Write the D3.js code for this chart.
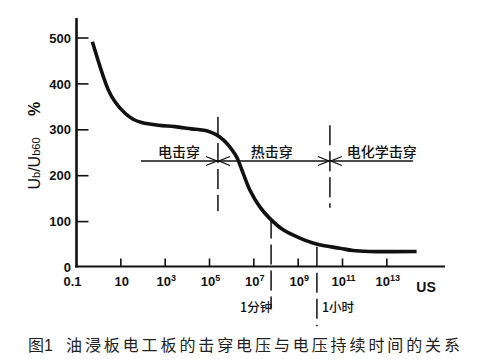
<!DOCTYPE html>
<html><head><meta charset="utf-8">
<script src="https://cdn.jsdelivr.net/npm/d3@7"></script>
<style>body{margin:0;background:#fff}svg{display:block}</style>
</head><body>
<svg id="chart" width="493" height="359"></svg>
<script>
// ---- data (time in microseconds, Ub/Ub60 in %) ----
const timeUs = [0.52, 2.72, 5.45, 15.5, 36, 87, 490, 2.75e3, 1.55e4, 3.7e4, 8.7e4, 2.1e5, 4.2e5, 6.9e5,
  1.66e6, 3.3e6, 6.6e6, 1.86e7, 5.2e7, 2.1e8, 1.2e9, 6.8e9, 7.6e10, 2.95e11, 1.6e12, 2.2e14];
const ubRatio = [492, 387, 361, 336, 323, 316, 310, 307, 302, 300, 297, 289, 278, 267,
  241, 205, 169, 132, 107, 82, 64, 51, 42, 37, 35, 35];
const xTickExps = [-1, 1, 3, 5, 7, 9, 11, 13];
const yTicks = [0, 100, 200, 300, 400, 500];
const regionNames = ["电击穿", "热击穿", "电化学击穿"];
const regionCenters = [4.2e3, 6.5e7, 5.9e12];
const regionBounds = [2.4e5, 2.7e10];
const regionBoundSpan = [[328, 123], [310, 130]];
const arrowExtent = [81, 1.5e14];
const arrowLevel = 232;
const timeMarkNames = ["1分钟", "1小时"];
const timeMarks = [6e7, 7e9];
const timeMarkSpan = [[107, -88], [45, -128]];
const xUnit = "US";
const caption = ["图1", "油浸板电工板的击穿电压与电压持续时间的关系"];

const svg = d3.select("#chart");
const x = d3.scaleLog().domain([0.1, 4.2e15]).range([76.5, 445]);
const y = d3.scaleLinear().domain([0, 500]).range([267.5, 38]);
const latin = "'Liberation Sans', Arial, Helvetica, sans-serif";
const cjk = "'Noto Sans CJK SC', 'Noto Sans', sans-serif";
const ink = "#111";

// axes lines
svg.append("line").attr("x1", x(0.1)).attr("x2", x(0.1)).attr("y1", 18).attr("y2", y(0))
  .attr("stroke", ink).attr("stroke-width", 2.6);
svg.append("line").attr("x1", x(0.1) - 1.3).attr("x2", x.range()[1]).attr("y1", y(0) - 1).attr("y2", y(0) - 1)
  .attr("stroke", ink).attr("stroke-width", 2.2);

// y ticks
yTicks.forEach(v => {
  if (v > 0) svg.append("line").attr("x1", x(0.1)).attr("x2", x(0.1) + 12).attr("y1", y(v)).attr("y2", y(v))
    .attr("stroke", ink).attr("stroke-width", 1.6);
  svg.append("text").attr("x", 71).attr("y", y(v) + 4.6).attr("text-anchor", "end")
    .attr("font-family", latin).attr("font-weight", "bold").attr("font-size", 13).attr("fill", ink).text(v);
});

// x ticks
xTickExps.forEach(e => {
  const v = Math.pow(10, e);
  if (e > -1) svg.append("line").attr("x1", x(v)).attr("x2", x(v)).attr("y1", y(0) - 9).attr("y2", y(0) - 1)
    .attr("stroke", ink).attr("stroke-width", 1.6);
  const t = svg.append("text").attr("x", e === -1 ? x(v) - 4 : x(v) + 1).attr("y", 286).attr("text-anchor", "middle")
    .attr("font-family", latin).attr("font-weight", "bold").attr("font-size", 13).attr("fill", ink);
  if (e === -1) t.text("0.1");
  else if (e === 1) t.text("10");
  else { t.append("tspan").text("10"); t.append("tspan").attr("font-size", 9).attr("dy", -5).text(e); }
});
svg.append("text").attr("x", 426).attr("y", 292).attr("text-anchor", "middle")
  .attr("font-family", latin).attr("font-weight", "bold").attr("font-size", 14).attr("fill", ink).text(xUnit);

// y label
const yl = svg.append("text").attr("transform", "translate(39.5,163.5) rotate(-90)").attr("text-anchor", "middle")
  .attr("font-family", latin).attr("font-size", 16).attr("fill", ink);
yl.append("tspan").text("U");
yl.append("tspan").attr("font-size", 11).text("b");
yl.append("tspan").text("/U");
yl.append("tspan").attr("font-size", 11).text("b60");
svg.append("text").attr("transform", "translate(39.5,109) rotate(-90)").attr("text-anchor", "middle")
  .attr("font-family", latin).attr("font-weight", "bold").attr("font-size", 16).attr("fill", ink).text("%");

// region boundaries (dashed)
regionBounds.forEach((b, i) => {
  svg.append("line").attr("x1", x(b)).attr("x2", x(b)).attr("y1", y(regionBoundSpan[i][0])).attr("y2", y(regionBoundSpan[i][1]))
    .attr("stroke", ink).attr("stroke-width", 1.5).attr("stroke-dasharray", "20,6");
});
// arrow line
const ay = y(arrowLevel);
svg.append("line").attr("x1", x(arrowExtent[0])).attr("x2", x(arrowExtent[1])).attr("y1", ay).attr("y2", ay)
  .attr("stroke", ink).attr("stroke-width", 1.3);
function head(px, dir) {
  svg.append("path").attr("d", `M${px - dir * 11},${ay - 4.5}L${px},${ay}L${px - dir * 11},${ay + 4.5}`)
    .attr("fill", "none").attr("stroke", ink).attr("stroke-width", 1.3);
}
regionBounds.forEach(b => { head(x(b) - 1, 1); head(x(b) + 1, -1); });
regionNames.forEach((n, i) => {
  svg.append("text").attr("x", x(regionCenters[i])).attr("y", 157).attr("text-anchor", "middle")
    .attr("font-family", cjk).attr("font-weight", 500).attr("font-size", 14).attr("fill", ink).text(n);
});

// time markers
timeMarks.forEach((t, i) => {
  svg.append("line").attr("x1", x(t)).attr("x2", x(t)).attr("y1", y(timeMarkSpan[i][0])).attr("y2", y(timeMarkSpan[i][1]))
    .attr("stroke", ink).attr("stroke-width", 1.5).attr("stroke-dasharray", "20,6");
  svg.append("text").attr("x", i === 0 ? x(t) - 15 : x(t) + 5).attr("y", 312)
    .attr("text-anchor", i === 0 ? "middle" : "start")
    .attr("font-family", cjk).attr("font-weight", 500).attr("font-size", 12.5).attr("fill", ink).text(timeMarkNames[i]);
});

// curve
const pts = timeUs.map((t, i) => [x(t), y(ubRatio[i])]);
svg.append("path").attr("d", d3.line().curve(d3.curveCatmullRom.alpha(0.5))(pts))
  .attr("fill", "none").attr("stroke", ink).attr("stroke-width", 3.6).attr("stroke-linejoin", "round");

// caption
svg.append("text").attr("x", 28).attr("y", 351).attr("font-family", cjk).attr("font-size", 16).attr("fill", "#222")
  .append("tspan").text(caption[0].slice(0, 1))
  .append("tspan").attr("font-family", latin).text(caption[0].slice(1));
svg.append("text").attr("x", 66).attr("y", 351).attr("font-family", cjk).attr("font-size", 16).attr("fill", "#222")
  .attr("textLength", 394).attr("lengthAdjust", "spacing").text(caption[1]);
</script>
</body></html>
